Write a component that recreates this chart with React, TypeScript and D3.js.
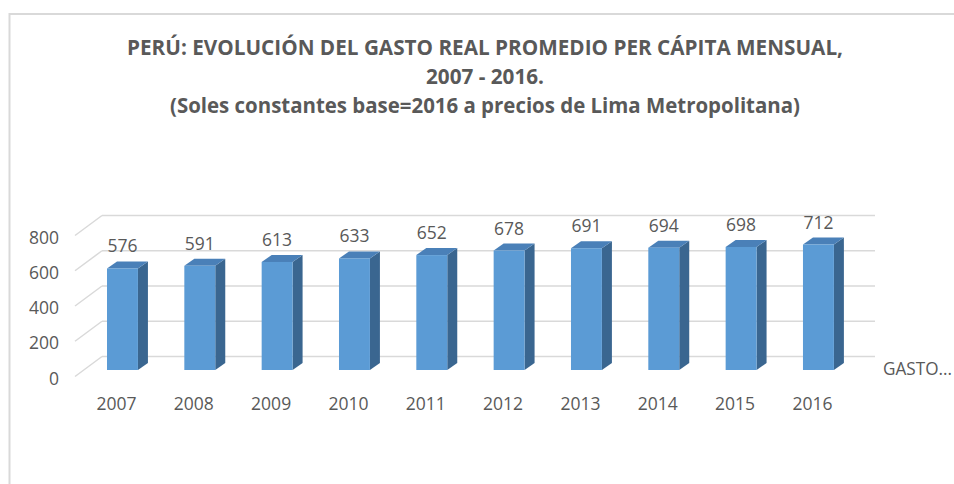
import React from "react";
import * as d3 from "d3";

const years = ["2007", "2008", "2009", "2010", "2011", "2012", "2013", "2014", "2015", "2016"];
const gasto = [576, 591, 613, 633, 652, 678, 691, 694, 698, 712];
const yTicks = [0, 200, 400, 600, 800];
const titleLines = [
  "PERÚ: EVOLUCIÓN DEL GASTO REAL PROMEDIO PER CÁPITA MENSUAL,",
  "2007 - 2016.",
  "(Soles constantes base=2016 a precios de Lima Metropolitana)",
];
const titleWidths = [716, 118, 630];
const legendLabel = "GASTO...";

const W = 954;
const H = 484;
const FONT = "'Open Sans', 'Liberation Sans', sans-serif";
const TXT = "#595959";
const GRID = "#D9D9D9";

export default function App() {
  // back wall scale
  const yBack = d3.scaleLinear().domain([0, 800]).range([356.5, 215.5]);
  // front (bar face) scale
  const yFront = d3.scaleLinear().domain([0, 800]).range([370, 229]);
  const x = d3
    .scaleBand<string>()
    .domain(years)
    .range([83.8, 857.1])
    .paddingInner(0.6)
    .paddingOuter(0.3);

  const wallDx = 27;
  const wallDy = 20;
  const backLeft = 102;
  const backRight = 875;
  const barDx = 10;
  const barDy = 7;
  const bw = x.bandwidth();

  return (
    <svg
      width={W}
      height={H}
      style={{ position: "absolute", left: 0, top: 0, background: "#fff" }}
      fontFamily={FONT}
    >
      <rect x={0} y={0} width={W} height={H} fill="#fff" />
      {/* chart frame */}
      <rect x={9.5} y={14} width={W + 20} height={H + 20} fill="none" stroke="#D9D9D9" strokeWidth={2} />

      {/* title */}
      {titleLines.map((t, i) => (
        <text
          key={i}
          x={485}
          y={55 + i * 29}
          textAnchor="middle"
          fontWeight="bold"
          fontSize={21.5}
          fill={TXT}
          textLength={titleWidths[i]}
          lengthAdjust="spacingAndGlyphs"
        >
          {t}
        </text>
      ))}

      {/* gridlines */}
      {yTicks.map((v) => (
        <g key={v}>
          <line
            x1={backLeft - wallDx}
            y1={yBack(v) + wallDy}
            x2={backLeft}
            y2={yBack(v)}
            stroke={GRID}
            strokeWidth={1.5}
          />
          <line x1={backLeft} y1={yBack(v)} x2={backRight} y2={yBack(v)} stroke={GRID} strokeWidth={1.5} />
          <text
            x={59}
            y={yBack(v) + wallDy + 1}
            textAnchor="end"
            dominantBaseline="central"
            fontSize={17.5}
            fill={TXT}
          >
            {v}
          </text>
        </g>
      ))}

      {/* bars */}
      {years.map((yr, i) => {
        const x0 = x(yr) as number;
        const x1 = x0 + bw;
        const yt = yFront(gasto[i]);
        const yb = yFront(0);
        return (
          <g key={yr}>
            <path
              d={`M${x1},${yt}L${x1 + barDx},${yt - barDy}L${x1 + barDx},${yb - barDy}L${x1},${yb}Z`}
              fill="#3A6690"
            />
            <path
              d={`M${x0},${yt}L${x0 + barDx},${yt - barDy}L${x1 + barDx},${yt - barDy}L${x1},${yt}Z`}
              fill="#4A80B8"
            />
            <rect x={x0} y={yt} width={bw} height={yb - yt} fill="#5B9BD5" />
            <text
              x={x0 + bw / 2}
              y={yt - 23}
              textAnchor="middle"
              dominantBaseline="central"
              fontSize={17.5}
              fill={TXT}
            >
              {gasto[i]}
            </text>
            <text
              x={x0 + bw / 2 - 6}
              y={403}
              textAnchor="middle"
              dominantBaseline="central"
              fontSize={17.5}
              fill={TXT}
            >
              {yr}
            </text>
          </g>
        );
      })}

      {/* legend */}
      <text
        x={883}
        y={368}
        dominantBaseline="central"
        fontSize={17.5}
        fill={TXT}
        textLength={69}
        lengthAdjust="spacingAndGlyphs"
      >
        {legendLabel}
      </text>
    </svg>
  );
}
